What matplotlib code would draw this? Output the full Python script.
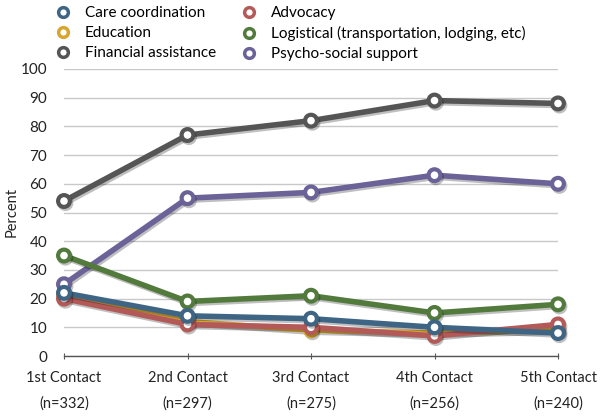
import matplotlib
matplotlib.use('Agg')
import matplotlib.pyplot as plt
import matplotlib.patheffects as pe
from matplotlib.lines import Line2D

plt.rcParams['font.family'] = ['Lato', 'DejaVu Sans']

# data
contacts = ['1st Contact', '2nd Contact', '3rd Contact', '4th Contact', '5th Contact']
sizes = ['(n=332)', '(n=297)', '(n=275)', '(n=256)', '(n=240)']

care = [22, 14, 13, 10, 8]
advocacy = [20, 11, 10, 7, 11]
education = [21, 12, 9, 8, 9]
logistical = [35, 19, 21, 15, 18]
financial = [54, 77, 82, 89, 88]
psycho = [25, 55, 57, 63, 60]

# drawing order: bottom first
series = [
	('Financial assistance', financial, '#555555'),
	('Psycho-social support', psycho, '#6b6298'),
	('Logistical (transportation, lodging, etc)', logistical, '#527a3c'),
	('Education', education, '#d6a630'),
	('Advocacy', advocacy, '#b35a58'),
	('Care coordination', care, '#3f6585'),
]
colors = {name: c for name, _, c in series}

fig = plt.figure(figsize=(6, 4.16), dpi=100)
ax = fig.add_axes([64/600, 1-356/416, (558-64)/600, (356-69)/416])

x = list(range(len(contacts)))
shadow = [pe.SimpleLineShadow(offset=(1, -1.5), shadow_color='#000000', alpha=0.25), pe.Normal()]
for name, vals, c in series:
	ax.plot(x, vals, color=c, lw=4, marker='o', markersize=8.5, markerfacecolor='white',
		markeredgecolor=c, markeredgewidth=3, clip_on=False, zorder=3, path_effects=shadow)

ax.set_xlim(0, 4)
ax.set_ylim(0, 100)
ax.set_yticks(range(0, 101, 10))
ax.yaxis.grid(True, color='#c8c8c8', lw=1)
ax.set_axisbelow(True)
for s in ['top', 'right', 'left']:
	ax.spines[s].set_visible(False)
ax.spines['bottom'].set_color('#555555')
ax.spines['bottom'].set_linewidth(1)
ax.tick_params(axis='y', length=0, pad=12, labelsize=11, labelcolor='#222222')
ax.tick_params(axis='x', direction='inout', length=5, color='#555555', pad=8, labelsize=10.5, labelcolor='#222222')
ax.set_xticks(x)
ax.set_xticklabels([c + '\n' + n for c, n in zip(contacts, sizes)], linespacing=2.0)
fig.text(12/600, 1-212/416, 'Percent', rotation=90, ha='center', va='center', fontsize=10.5, color='#222222')

# legend, two columns (filled column by column)
order = ['Care coordination', 'Education', 'Financial assistance',
	'Advocacy', 'Logistical (transportation, lodging, etc)', 'Psycho-social support']
handles = [Line2D([], [], ls='none', marker='o', markersize=7, markerfacecolor='white',
	markeredgecolor=colors[n], markeredgewidth=2.5) for n in order]
fig.legend(handles, order, loc='upper left', bbox_to_anchor=(48/600, 1.0), ncol=2, frameon=False,
	fontsize=11, handlelength=1.2, handletextpad=0.8, columnspacing=1.6, labelspacing=0.4,
	borderaxespad=0.0)

fig.savefig('out.png', dpi=100)
